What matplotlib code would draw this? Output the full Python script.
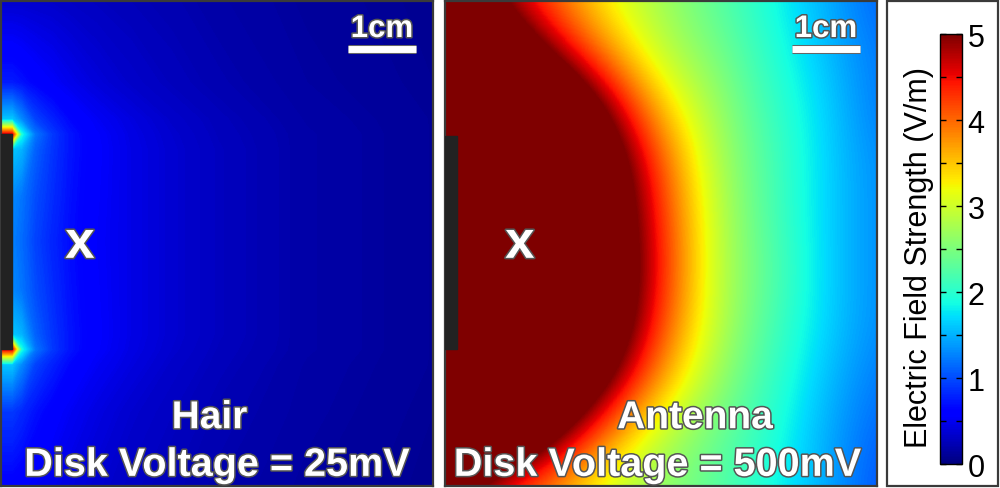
import numpy as np
import matplotlib.pyplot as plt
import matplotlib.patheffects as pe
from matplotlib.patches import Rectangle

plt.rcParams['font.family'] = ['Liberation Sans', 'DejaVu Sans']

# panel size in cm (about 68 px = 1 cm in the picture)
W, H = 6.35, 7.13

# hair panel: field strength (V/m) on a non-uniform grid, x from the disk, y from top (cm)
hair_x = [0, 0.16, 0.3, 0.5, 0.75, 1.0, 1.4, 1.9, 2.5, 3.2, 4.5, 6.35]
hair_y = [0, 1.2, 1.74, 1.96, 2.18, 2.87, 3.53, 4.26, 4.9, 5.12, 5.34, 6.03, 7.13]
hair_E = [
    [0.35, 0.35, 0.35, 0.34, 0.33, 0.31, 0.28, 0.25, 0.22, 0.18, 0.13, 0.09],
    [0.75, 0.75, 0.70, 0.62, 0.55, 0.48, 0.40, 0.33, 0.27, 0.22, 0.15, 0.10],
    [1.60, 1.60, 1.30, 0.95, 0.78, 0.65, 0.52, 0.42, 0.33, 0.26, 0.17, 0.11],
    [4.60, 4.60, 1.90, 1.20, 0.90, 0.72, 0.56, 0.44, 0.35, 0.27, 0.18, 0.11],
    [1.50, 1.60, 1.50, 1.10, 0.88, 0.72, 0.57, 0.45, 0.36, 0.28, 0.18, 0.11],
    [1.30, 1.30, 1.20, 1.00, 0.84, 0.70, 0.56, 0.45, 0.36, 0.28, 0.18, 0.11],
    [1.25, 1.25, 1.15, 0.95, 0.80, 0.68, 0.55, 0.45, 0.36, 0.28, 0.18, 0.11],
    [1.30, 1.30, 1.20, 1.00, 0.84, 0.70, 0.56, 0.45, 0.36, 0.28, 0.18, 0.11],
    [1.50, 1.60, 1.50, 1.10, 0.88, 0.72, 0.57, 0.45, 0.36, 0.28, 0.18, 0.11],
    [4.60, 4.60, 1.90, 1.20, 0.90, 0.72, 0.56, 0.44, 0.35, 0.27, 0.18, 0.11],
    [1.60, 1.60, 1.30, 0.95, 0.78, 0.65, 0.52, 0.42, 0.33, 0.26, 0.17, 0.11],
    [0.90, 0.90, 0.82, 0.70, 0.60, 0.52, 0.43, 0.35, 0.29, 0.23, 0.16, 0.10],
    [0.60, 0.60, 0.57, 0.52, 0.47, 0.42, 0.36, 0.30, 0.25, 0.20, 0.14, 0.09],
]

# antenna panel: field strength (V/m) sampled on a 10 x 9 grid whose outer
# points sit on the panel edges (rows top to bottom)
antenna_E = [
    [6.3, 4.9, 4.0, 3.2, 2.7, 2.3, 1.9, 1.5, 1.1],
    [8.0, 6.3, 4.9, 3.8, 2.9, 2.5, 2.0, 1.6, 1.2],
    [9.8, 8.2, 6.6, 5.0, 3.5, 2.7, 2.1, 1.7, 1.2],
    [10.5, 8.9, 7.3, 5.7, 4.1, 2.8, 2.2, 1.7, 1.3],
    [10.8, 9.2, 7.6, 5.9, 4.3, 2.9, 2.2, 1.7, 1.3],
    [10.9, 9.2, 7.6, 6.0, 4.4, 2.9, 2.3, 1.7, 1.3],
    [10.7, 9.1, 7.5, 5.9, 4.2, 2.9, 2.2, 1.7, 1.3],
    [10.1, 8.5, 6.9, 5.2, 3.7, 2.7, 2.1, 1.6, 1.2],
    [8.5, 6.9, 5.3, 3.9, 2.9, 2.4, 2.0, 1.5, 1.1],
    [5.2, 4.3, 3.7, 3.0, 2.6, 2.3, 1.9, 1.5, 1.0],
]

names = ['Hair', 'Antenna']
voltages = ['25mV', '500mV']
disk_y = [(1.96, 5.12), (1.99, 5.12)]
disk_w = [0.16, 0.18]
marker_x = [1.16, 1.10]
marker_y = 3.57
cbar_ticks = [0, 1, 2, 3, 4, 5]

fig = plt.figure(figsize=(10, 4.89), dpi=100)
ax1 = fig.add_axes([0.001, 0.004, 0.432, 0.992])
ax2 = fig.add_axes([0.445, 0.004, 0.432, 0.992])

ax1.contourf(hair_x, hair_y, hair_E, levels=np.linspace(0, 5, 401), cmap='jet',
             extend='both', antialiased=False)
nr, nc = len(antenna_E), len(antenna_E[0])
dx, dy = W / (nc - 1), H / (nr - 1)
im = ax2.imshow(antenna_E, cmap='jet', vmin=0, vmax=5,
                extent=[-dx / 2, W + dx / 2, H + dy / 2, -dy / 2],
                interpolation='bicubic', aspect='auto')

outline = [pe.withStroke(linewidth=2.2, foreground='#555555')]
for i, ax in enumerate([ax1, ax2]):
    ax.set_xlim(0, W)
    ax.set_ylim(H, 0)
    ax.set_xticks([])
    ax.set_yticks([])
    for s in ax.spines.values():
        s.set_color('#3a3a3a')
        s.set_linewidth(1.6)
    # the disk
    y0, y1 = disk_y[i]
    ax.add_patch(Rectangle((0, y0), disk_w[i], y1 - y0, color='#222222', zorder=3))
    ax.text(marker_x[i], marker_y, 'x', color='white', fontsize=38, fontweight='bold',
            ha='center', va='center', path_effects=outline, zorder=4)
    # 1 cm scale bar
    ax.plot([5.10, 6.10], [0.71, 0.71], color='white', lw=5, solid_capstyle='butt',
            path_effects=[pe.withStroke(linewidth=6.5, foreground='#666666')], zorder=4)
    ax.text(5.60, 0.53, '1cm', color='white', fontsize=22.5, fontweight='bold',
            ha='center', va='baseline', path_effects=outline, zorder=4)
    ax.text(W / 2 + (-0.11 if i == 0 else 0.5), 6.28, names[i], color='white', fontsize=28,
            fontweight='bold', ha='center', va='baseline', path_effects=outline, zorder=4)
    ax.text(W / 2 + (0.0 if i == 0 else -0.05), 6.98, 'Disk Voltage = ' + voltages[i],
            color='white', fontsize=28.5, fontweight='bold', ha='center', va='baseline',
            path_effects=outline, zorder=4)

# colorbar box
fig.patches.append(Rectangle((887 / 1000, 2 / 489), 111 / 1000, 485 / 489,
                             transform=fig.transFigure, facecolor='white',
                             edgecolor='#3a3a3a', linewidth=1.6, zorder=-1))
cax = fig.add_axes([0.940, 0.049, 0.022, 0.879])
cb = fig.colorbar(im, cax=cax)
cb.set_ticks(cbar_ticks)
cb.ax.set_yticks(np.arange(0, 5.01, 0.5), minor=True)
cb.ax.tick_params(which='both', direction='in', left=True, right=True, length=4,
                  width=1, colors='black', labelsize=22, pad=4)
cb.outline.set_linewidth(1)
fig.text(0.919, 1 - 257 / 489, 'Electric Field Strength (V/m)', rotation=90,
         ha='center', va='center', fontsize=22)

fig.savefig('out.png', dpi=100)
